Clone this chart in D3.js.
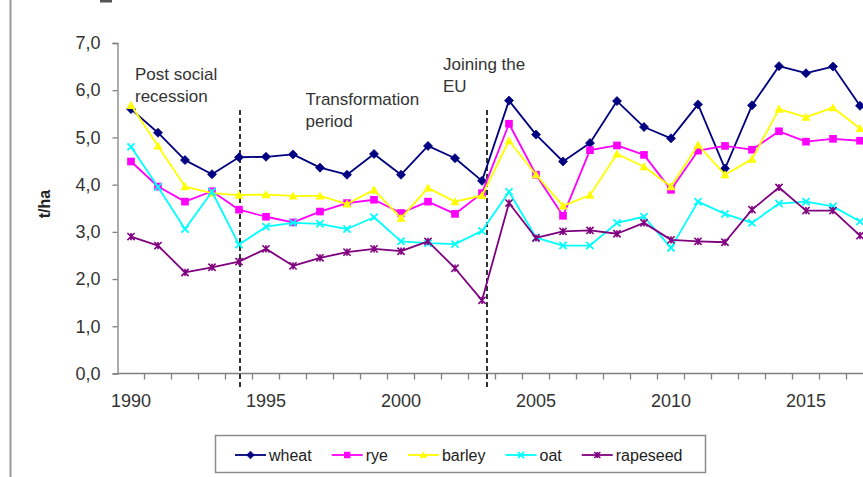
<!DOCTYPE html>
<html><head><meta charset="utf-8">
<script src="https://cdn.jsdelivr.net/npm/d3@7"></script>
<style>
body{margin:0;background:#fff}
svg{display:block}
text{font-family:"Liberation Sans",Arial,sans-serif}
</style>
</head><body>
<svg id="c" width="863" height="477"></svg>
<script>
const years = [1990,1991,1992,1993,1994,1995,1996,1997,1998,1999,2000,2001,2002,2003,2004,2005,2006,2007,2008,2009,2010,2011,2012,2013,2014,2015,2016,2017];
const yearLabels = [1990,1995,2000,2005,2010,2015];
const yTicks = [0,1,2,3,4,5,6,7];
const wheat    = [5.60,5.10,4.52,4.22,4.58,4.59,4.64,4.36,4.21,4.65,4.21,4.82,4.56,4.08,5.78,5.06,4.49,4.88,5.77,5.22,4.98,5.70,4.34,5.68,6.51,6.36,6.50,5.67];
const rye      = [4.49,3.96,3.64,3.86,3.47,3.32,3.20,3.43,3.61,3.68,3.40,3.64,3.38,3.82,5.29,4.21,3.34,4.73,4.83,4.63,3.89,4.72,4.82,4.74,5.13,4.91,4.97,4.93];
const barley   = [5.68,4.82,3.96,3.82,3.78,3.79,3.76,3.76,3.59,3.89,3.29,3.93,3.64,3.77,4.93,4.21,3.55,3.78,4.65,4.38,3.96,4.84,4.21,4.54,5.60,5.43,5.63,5.19];
const oat      = [4.80,3.95,3.06,3.85,2.73,3.11,3.19,3.17,3.06,3.31,2.80,2.76,2.74,3.02,3.85,2.88,2.71,2.71,3.19,3.32,2.66,3.64,3.38,3.19,3.60,3.64,3.54,3.22];
const rapeseed = [2.90,2.71,2.14,2.25,2.37,2.64,2.28,2.45,2.57,2.64,2.59,2.80,2.23,1.55,3.61,2.87,3.01,3.03,2.96,3.19,2.83,2.80,2.78,3.47,3.94,3.45,3.45,2.92];
const seriesNames = ["wheat","rye","barley","oat","rapeseed"];
const periodYears = [1994, 2003];
const periodLabels = [
  {year:1990, lines:["Post social","recession"]},
  {year:1997, lines:["Transformation","period"]},
  {year:2002, lines:["Joining the","EU"]}
];

const styles = {
  wheat:{color:"#000080", marker:"diamond"},
  rye:{color:"#ff00ff", marker:"square"},
  barley:{color:"#ffff00", marker:"triangle"},
  oat:{color:"#00ffff", marker:"x"},
  rapeseed:{color:"#800080", marker:"star"}
};
const dataBy = {wheat, rye, barley, oat, rapeseed};

const svg = d3.select("#c");
const pLeft = 117.5, pTop = 43, pBottom = 373.5, step = 27;
const x = d3.scaleBand().domain(years).range([pLeft, pLeft + step*years.length]).padding(0);
const cx = d => x(d) + x.bandwidth()/2;
const y = d3.scaleLinear().domain([0,7]).range([pBottom, pTop]);

// chart area left border and cut-off mark at top
svg.append("line").attr("x1",10.5).attr("x2",10.5).attr("y1",0).attr("y2",477)
  .attr("stroke","#9a9a9a").attr("stroke-width",2);
svg.append("rect").attr("x",100).attr("y",0).attr("width",12).attr("height",2.5).attr("fill","#555");

// y axis
const yAxis = svg.append("g").attr("transform",`translate(${pLeft},0)`)
  .call(d3.axisLeft(y).tickValues(yTicks).tickSize(5).tickPadding(12)
    .tickFormat(d => d.toFixed(1).replace(".", ",")));
yAxis.select(".domain").attr("stroke","#808080").attr("stroke-width",1.3);
yAxis.selectAll(".tick line").attr("stroke","#808080").attr("stroke-width",1.3);
yAxis.selectAll("text").attr("font-size",18).attr("fill","#333")
  .style("font-family","'Liberation Sans',Arial,sans-serif");

// x axis
const xg = svg.append("g");
xg.append("line").attr("x1",pLeft).attr("x2",pLeft + step*years.length)
  .attr("y1",pBottom).attr("y2",pBottom).attr("stroke","#808080").attr("stroke-width",1.3);
xg.selectAll("line.tk").data(years).join("line").attr("class","tk")
  .attr("x1",d => x(d)+step).attr("x2",d => x(d)+step)
  .attr("y1",pBottom).attr("y2",pBottom+6).attr("stroke","#808080").attr("stroke-width",1.3);
xg.selectAll("text").data(yearLabels).join("text")
  .attr("x",d => cx(d)).attr("y",pBottom+33).attr("text-anchor","middle")
  .attr("font-size",18).attr("fill","#333").text(d => d);

// y label
svg.append("text").attr("transform","translate(50,204) rotate(-90)")
  .attr("text-anchor","middle").attr("font-size",16).attr("font-weight","bold")
  .attr("fill","#222").text("t/ha");

// period dashed lines (second one sits slightly right of its point in the original)
const lineShift = {1994:1, 2003:5};
svg.selectAll("line.period").data(periodYears).join("line").attr("class","period")
  .attr("x1",d => cx(d)+lineShift[d]).attr("x2",d => cx(d)+lineShift[d])
  .attr("y1",110).attr("y2",388)
  .attr("stroke","#000").attr("stroke-width",1.6).attr("stroke-dasharray","5,3");

// period annotations
const annLayout = {1990:{dx:17.5, y:80}, 1997:{dx:-1, y:105}, 2002:{dx:1.5, y:70}};
periodLabels.forEach(p => {
  const L = annLayout[p.year];
  const t = svg.append("text").attr("font-size",17).attr("fill","#333");
  p.lines.forEach((l,i) => {
    t.append("tspan").attr("x", x(p.year) + L.dx).attr("y", L.y + i*21.5).text(l);
  });
});

function marker(g, type, color, s) {
  if (type === "diamond") {
    g.append("path").attr("d",`M0,${-s}L${s},0L0,${s}L${-s},0Z`).attr("fill",color).attr("stroke",color).attr("stroke-width",0.8);
  } else if (type === "square") {
    g.append("rect").attr("x",-s*0.85).attr("y",-s*0.85).attr("width",s*1.7).attr("height",s*1.7).attr("fill",color);
  } else if (type === "triangle") {
    g.append("path").attr("d",`M0,${-s}L${s},${s*0.8}L${-s},${s*0.8}Z`).attr("fill",color);
  } else if (type === "x") {
    const a = s*0.8;
    g.append("path").attr("d",`M${-a},${-a}L${a},${a}M${-a},${a}L${a},${-a}`).attr("stroke",color).attr("stroke-width",1.8).attr("fill","none");
  } else if (type === "star") {
    const a = s*0.8;
    g.append("path").attr("d",`M${-a},${-a}L${a},${a}M${-a},${a}L${a},${-a}M0,${-a}L0,${a}`).attr("stroke",color).attr("stroke-width",1.6).attr("fill","none");
  }
}

// series
const line = d3.line().x((d,i) => cx(years[i])).y(d => y(d));
seriesNames.forEach(name => {
  const st = styles[name], vals = dataBy[name];
  const g = svg.append("g");
  g.append("path").datum(vals).attr("d", line).attr("fill","none")
    .attr("stroke", st.color).attr("stroke-width",1.8).attr("stroke-linejoin","round");
  vals.forEach((v,i) => {
    const mg = g.append("g").attr("transform",`translate(${cx(years[i])},${y(v)})`);
    marker(mg, st.marker, st.color, 4.5);
  });
});

// legend
const lg = svg.append("g");
lg.append("rect").attr("x",215.5).attr("y",435.5).attr("width",490).attr("height",37)
  .attr("fill","#fff").attr("stroke","#8c8c8c").attr("stroke-width",1.5);
let lx = 235;
const ly = 455;
seriesNames.forEach(name => {
  const st = styles[name];
  lg.append("line").attr("x1",lx).attr("x2",lx+31).attr("y1",ly).attr("y2",ly)
    .attr("stroke",st.color).attr("stroke-width",1.8);
  const mg = lg.append("g").attr("transform",`translate(${lx+15.5},${ly})`);
  marker(mg, st.marker, st.color, 3.8);
  const t = lg.append("text").attr("x",lx+34).attr("y",ly+6).attr("font-size",16)
    .attr("fill","#222").text(name);
  lx += 34 + t.node().getComputedTextLength() + 20;
});
</script>
</body></html>
